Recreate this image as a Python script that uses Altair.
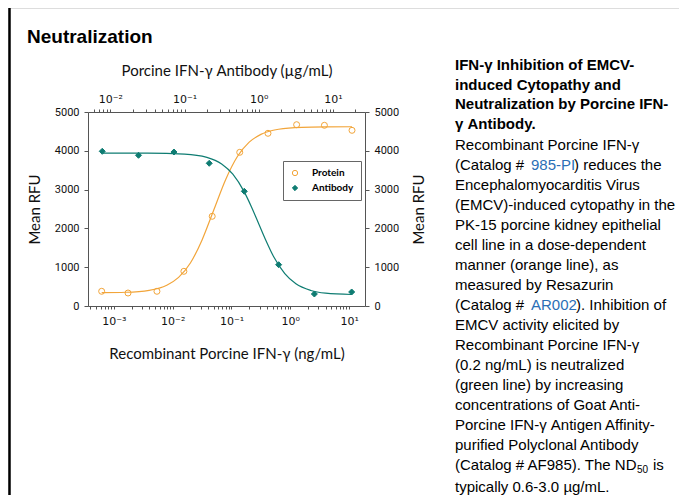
import altair as alt
import pandas as pd

# ---------------- data ----------------
series_names = ["Protein", "Antibody"]

protein_conc = [0.00062, 0.00174, 0.0054, 0.0155, 0.047, 0.138, 0.417, 1.28, 3.8, 11.2]   # ng/mL
protein_rfu = [379, 335, 379, 894, 2312, 3961, 4451, 4673, 4657, 4528]

antibody_conc = [0.0078, 0.024, 0.072, 0.215, 0.638, 1.85, 5.6, 17.8]                     # ug/mL
antibody_rfu = [3987, 3884, 3969, 3678, 2956, 1064, 309, 361]

protein_fit_conc = [0.00062, 0.00158, 0.00398, 0.00794, 0.0126, 0.02, 0.0316, 0.0501,
                    0.0794, 0.126, 0.2, 0.316, 0.631, 1.58, 3.98, 11.2]
protein_fit_rfu = [343, 354, 405, 536, 737, 1108, 1704, 2480, 3256, 3852, 4223, 4424,
                   4556, 4606, 4617, 4620]

antibody_fit_conc = [0.00794, 0.0316, 0.1, 0.2, 0.316, 0.447, 0.631, 0.794, 1.0, 1.26,
                     1.58, 2.24, 3.16, 5.01, 7.94, 17.8]
antibody_fit_rfu = [3940, 3938, 3915, 3831, 3660, 3396, 2954, 2560, 2115, 1670, 1276,
                    834, 571, 400, 331, 297]

rfu_ticks = [0, 1000, 2000, 3000, 4000, 5000]

title_text = "Neutralization"
x_title = "Recombinant Porcine IFN-γ (ng/mL)"
x2_title = "Porcine IFN-γ Antibody (µg/mL)"
y_title = "Mean RFU"

heading_lines = [
    "IFN-γ Inhibition of EMCV-",
    "induced Cytopathy and",
    "Neutralization by Porcine IFN-",
    "γ Antibody.",
]
body_lines = [
    "Recombinant Porcine IFN-γ",
    None,
    "Encephalomyocarditis Virus",
    "(EMCV)-induced cytopathy in the",
    "PK-15 porcine kidney epithelial",
    "cell line in a dose-dependent",
    "manner (orange line), as",
    "measured by Resazurin",
    None,
    "EMCV activity elicited by",
    "Recombinant Porcine IFN-γ",
    "(0.2 ng/mL) is neutralized",
    "(green line) by increasing",
    "concentrations of Goat Anti-",
    "Porcine IFN-γ Antigen Affinity-",
    "purified Polyclonal Antibody",
    None,
]
last_line = "typically 0.6-3.0 µg/mL."
link1 = ["(Catalog # ", "985-PI", ") reduces the"]
link2 = ["(Catalog # ", "AR002", "). Inhibition of"]
nd_line = ["(Catalog # AF985). The ND", "50", "is"]

# ---------------- styling ----------------
ORANGE = "#F2A53A"
TEAL = "#0E7C72"
LINK = "#2B6FB6"
CFONT = "Lato"
LFONT = "Roboto"
XFONT = "DejaVu Sans"
TFONT = "Liberation Sans, Arial"

W, H = 671, 487
XR = [80, 357]
YR = [298, 104]

x_lo, x_hi = 10 ** -3.44, 10 ** 1.27
x2_lo, x2_hi = 10 ** -2.30, 10 ** 1.43


def log_ticks(lo, hi):
    vals = []
    for e in range(-5, 3):
        for m in range(1, 10):
            v = float(f"{m}e{e}")
            if lo <= v <= hi:
                vals.append(v)
    return vals


E = "round(log(datum.value)/LN10)"
sup = {-3: "10⁻³", -2: "10⁻²", -1: "10⁻¹", 0: "10⁰", 1: "10¹"}
inner = "''"
for k in sorted(sup, reverse=True):
    inner = f"({E} == {k} ? '{sup[k]}' : {inner})"
label_expr = f"abs(log(datum.value)/LN10 - {E}) < 0.001 ? {inner} : ''"

common_axis = dict(
    grid=False, domainColor="#555", tickColor="#555", domainWidth=1, tickWidth=1,
    titleFont=CFONT, labelColor="#111", titleColor="#111",
    titleFontSize=15, titleFontWeight="normal",
)

x_axis = alt.Axis(orient="bottom", offset=-(H - YR[0]), values=log_ticks(x_lo, x_hi),
                  labelExpr=label_expr, tickSize=3, labelPadding=6, labelOverlap=False,
                  labelFont=XFONT, labelFontSize=11,
                  labelFlush=False, title=x_title, titleY=47, titleBaseline="middle",
                  **common_axis)
x2_axis = alt.Axis(orient="top", offset=-YR[1], values=log_ticks(x2_lo, x2_hi),
                   labelExpr=label_expr, tickSize=3, labelPadding=5, labelOverlap=False,
                   labelFont=XFONT, labelFontSize=11,
                   labelFlush=False, title=x2_title, titleY=-42, titleBaseline="middle",
                   **common_axis)
y_axis = alt.Axis(orient="left", offset=-XR[0], values=rfu_ticks, tickSize=4, format="d",
                  labelFont=LFONT, labelFontSize=11,
                  labelPadding=5, title=y_title, titleX=-54, titleAngle=270,
                  titleBaseline="middle", **common_axis)
y2_axis = alt.Axis(orient="right", offset=-(W - XR[1]), values=rfu_ticks, tickSize=4,
                   labelFont=LFONT, labelFontSize=11,
                   format="d", labelPadding=5, title=y_title, titleX=53, titleAngle=270,
                   titleBaseline="middle", **common_axis)

legend = alt.Legend(orient="none", legendX=275, legendY=153, title=None,
                    strokeColor="#666", fillColor="white", padding=7,
                    labelFont=CFONT, labelFontSize=10, labelFontWeight="bold",
                    labelOffset=12, symbolSize=28, rowPadding=5, symbolStrokeWidth=1)

shape_sc = alt.Scale(domain=series_names, range=["circle", "diamond"])
stroke_sc = alt.Scale(domain=series_names, range=[ORANGE, TEAL])
fill_sc = alt.Scale(domain=series_names, range=["transparent", TEAL])

xs = alt.Scale(type="log", domain=[x_lo, x_hi], range=XR, nice=False)
x2s = alt.Scale(type="log", domain=[x2_lo, x2_hi], range=XR, nice=False)
ys = alt.Scale(domain=[0, 5000], range=YR, nice=False, zero=False)

prot = pd.DataFrame({"conc": protein_conc, "rfu": protein_rfu, "series": "Protein"})
prot_fit = pd.DataFrame({"conc": protein_fit_conc, "rfu": protein_fit_rfu})
ab = pd.DataFrame({"conc": antibody_conc, "rfu": antibody_rfu, "series": "Antibody"})
ab_fit = pd.DataFrame({"conc": antibody_fit_conc, "rfu": antibody_fit_rfu})

prot_line = alt.Chart(prot_fit).mark_line(color=ORANGE, strokeWidth=1.2, interpolate="monotone").encode(
    x=alt.X("conc:Q", scale=xs, axis=x_axis), y=alt.Y("rfu:Q", scale=ys, axis=y_axis))
prot_pts = alt.Chart(prot).mark_point(size=36, strokeWidth=1, opacity=1).encode(
    x=alt.X("conc:Q", scale=xs), y=alt.Y("rfu:Q", scale=ys),
    shape=alt.Shape("series:N", scale=shape_sc, legend=legend),
    stroke=alt.Stroke("series:N", scale=stroke_sc, legend=legend),
    fill=alt.Fill("series:N", scale=fill_sc, legend=legend))

ab_line = alt.Chart(ab_fit).mark_line(color=TEAL, strokeWidth=1.2, interpolate="monotone").encode(
    x=alt.X("conc:Q", scale=x2s, axis=x2_axis), y=alt.Y("rfu:Q", scale=ys, axis=y2_axis))
ab_pts = alt.Chart(ab).mark_point(size=36, strokeWidth=1, opacity=1).encode(
    x=alt.X("conc:Q", scale=x2s), y=alt.Y("rfu:Q", scale=ys),
    shape=alt.Shape("series:N", scale=shape_sc, legend=legend),
    stroke=alt.Stroke("series:N", scale=stroke_sc, legend=legend),
    fill=alt.Fill("series:N", scale=fill_sc, legend=legend))

plot = alt.layer(alt.layer(prot_line, prot_pts), alt.layer(ab_line, ab_pts)).resolve_scale(
    x="independent", y="independent")

one = pd.DataFrame({"a": [0]})


def txt(s, x, y, size=15, weight="normal", color="#000", font=TFONT):
    return alt.Chart(one).mark_text(align="left", baseline="middle", fontSize=size,
                                    fontWeight=weight, color=color, font=font).encode(
        x=alt.value(x), y=alt.value(y), text=alt.value(s))


texts = [txt(title_text, 19, 29, size=19, weight="bold")]
TX = 447
for i, s in enumerate(heading_lines):
    texts.append(txt(s, TX, 57 + i * 19.7, weight="bold"))
for k, s in enumerate(body_lines):
    y = 137 + k * 20
    if s is not None:
        texts.append(txt(s, TX, y))
y = 137 + 1 * 20
texts += [txt(link1[0], TX, y), txt(link1[1], 523, y, color=LINK), txt(link1[2], 566, y)]
y = 137 + 8 * 20
texts += [txt(link2[0], TX, y), txt(link2[1], 523, y, color=LINK), txt(link2[2], 568, y)]
y = 137 + 16 * 20
texts += [txt(nd_line[0], TX, y), txt(nd_line[1], 629, y + 5, size=10), txt(nd_line[2], 645, y)]
texts.append(txt(last_line, TX, 479))

border = alt.Chart(one).mark_rule(color="#000", strokeWidth=2.5).encode(
    x=alt.value(1.5), y=alt.value(0), y2=alt.value(H))

chart = alt.layer(plot, border, *texts).properties(
    width=W, height=H, autosize="none", padding=0
).configure_view(stroke=None).configure(background="white")

chart.save("out.html", embed_options={"renderer": "svg", "actions": False})
